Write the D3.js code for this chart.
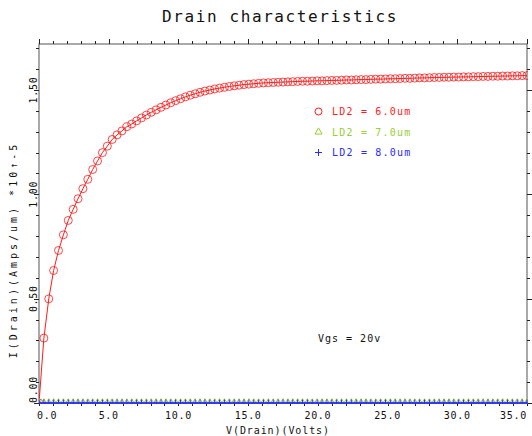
<!DOCTYPE html>
<html>
<head>
<meta charset="utf-8">
<script src="https://cdn.jsdelivr.net/npm/d3@7/dist/d3.min.js"></script>
<style>
  html, body { margin: 0; padding: 0; background: #fff; }
  svg { display: block; }
  text { font-family: "DejaVu Sans Mono", monospace; }
</style>
</head>
<body>
<script>
// ---- data ----
const title = "Drain characteristics";
const xLabel = "V(Drain)(Volts)";
const yLabel = "I(Drain)(Amps/um) *10\u2191-5";
const annotation = "Vgs = 20v";
const seriesNames = ["LD2 = 6.0um", "LD2 = 7.0um", "LD2 = 8.0um"];
const seriesColors = ["#ff1a1a", "#9acd32", "#2a2aff"];
const xTickValues = [0, 5, 10, 15, 20, 25, 30, 35];
const xTickLabels = ["0.0", "5.0", "10.0", "15.0", "20.0", "25.0", "30.0", "35.0"];
const yTickValues = [0, 0.5, 1.0, 1.5];
const yTickLabels = ["0.00", "0.50", "1.00", "1.50"];

const vDrain = [0.00,0.35,0.70,1.05,1.40,1.75,2.10,2.45,2.80,3.15,3.50,3.85,4.20,4.55,4.90,5.25,5.60,5.95,6.30,6.65,
  7.00,7.35,7.70,8.05,8.40,8.75,9.10,9.45,9.80,10.15,10.50,10.85,11.20,11.55,11.90,12.25,12.60,12.95,13.30,13.65,
  14.00,14.35,14.70,15.05,15.40,15.75,16.10,16.45,16.80,17.15,17.50,17.85,18.20,18.55,18.90,19.25,19.60,19.95,20.30,20.65,
  21.00,21.35,21.70,22.05,22.40,22.75,23.10,23.45,23.80,24.15,24.50,24.85,25.20,25.55,25.90,26.25,26.60,26.95,27.30,27.65,
  28.00,28.35,28.70,29.05,29.40,29.75,30.10,30.45,30.80,31.15,31.50,31.85,32.20,32.55,32.90,33.25,33.60,33.95,34.30,34.65,35.00];

const iLD6 = [0.000,0.311,0.499,0.635,0.731,0.806,0.875,0.928,0.979,1.027,1.072,1.119,1.160,1.200,1.231,1.263,1.285,1.304,1.324,1.337,
  1.352,1.366,1.380,1.393,1.405,1.417,1.428,1.439,1.449,1.458,1.467,1.475,1.482,1.489,1.495,1.500,1.505,1.509,1.513,1.517,
  1.520,1.523,1.526,1.528,1.530,1.532,1.534,1.535,1.536,1.537,1.538,1.539,1.540,1.541,1.542,1.542,1.543,1.544,1.544,1.545,
  1.546,1.546,1.547,1.548,1.548,1.549,1.550,1.550,1.551,1.552,1.552,1.553,1.554,1.554,1.555,1.556,1.556,1.557,1.558,1.558,
  1.559,1.560,1.560,1.561,1.561,1.562,1.562,1.563,1.563,1.564,1.564,1.565,1.565,1.566,1.566,1.567,1.567,1.568,1.568,1.569,1.569];

const iLD7 = [0,0,0,0,0,0,0,0,0,0,0,0,0,0,0,0,0,0,0,0,
  0,0,0,0,0,0,0,0,0,0,0,0,0,0,0,0,0,0,0,0,
  0,0,0,0,0,0,0,0,0,0,0,0,0,0,0,0,0,0,0,0,
  0,0,0,0,0,0,0,0,0,0,0,0,0,0,0,0,0,0,0,0,
  0,0,0,0,0,0,0,0,0,0,0,0,0,0,0,0,0,0,0,0,0];

const iLD8 = [0,0,0,0,0,0,0,0,0,0,0,0,0,0,0,0,0,0,0,0,
  0,0,0,0,0,0,0,0,0,0,0,0,0,0,0,0,0,0,0,0,
  0,0,0,0,0,0,0,0,0,0,0,0,0,0,0,0,0,0,0,0,
  0,0,0,0,0,0,0,0,0,0,0,0,0,0,0,0,0,0,0,0,
  0,0,0,0,0,0,0,0,0,0,0,0,0,0,0,0,0,0,0,0,0];

// ---- layout ----
const W = 532, H = 436;
const L = 39, R = 527, T = 44, B = 403;

const svg = d3.select("body").append("svg").attr("width", W).attr("height", H);

const x = d3.scaleLinear().domain([0, 35]).range([L, R]);
const y = d3.scaleLinear().domain([0, 1.5]).range([B, 90]);
const yTop = y.invert(T);

// frame
svg.append("rect").attr("x", L).attr("y", T).attr("width", R - L).attr("height", B - T)
  .attr("fill", "none").attr("stroke", "#555").attr("stroke-width", 1);

// ticks
const xMinor = d3.range(0, 36, 1);
const yMinor = d3.range(0, yTop + 1e-9, 0.1);
const tickColor = "#222";
const tg = svg.append("g").attr("stroke", tickColor).attr("stroke-width", 1);
xMinor.forEach(v => {
  const len = (v % 5 === 0) ? 5 : 3;
  const px = Math.round(x(v)) + 0.5;
  tg.append("line").attr("x1", px).attr("x2", px).attr("y1", T).attr("y2", T - len);
  tg.append("line").attr("x1", px).attr("x2", px).attr("y1", B).attr("y2", B + 3);
});
yMinor.forEach((v, i) => {
  const len = (i % 5 === 0) ? 5 : 3;
  const py = Math.round(y(v)) + 0.5;
  tg.append("line").attr("x1", L).attr("x2", L - len).attr("y1", py).attr("y2", py);
  tg.append("line").attr("x1", R).attr("x2", R + len).attr("y1", py).attr("y2", py);
});

// x tick labels
xTickValues.forEach((v, i) => {
  const anchor = i === 0 ? "start" : (i === xTickValues.length - 1 ? "end" : "middle");
  svg.append("text").attr("x", x(v) + (i === 0 ? -2 : 0)).attr("y", 418.5)
    .attr("text-anchor", anchor).attr("font-size", 10).attr("letter-spacing", 0.7)
    .attr("fill", "#111").text(xTickLabels[i]);
});
// y tick labels (rotated)
yTickValues.forEach((v, i) => {
  const anchor = i === 0 ? "start" : "middle";
  svg.append("text").attr("transform", `translate(36.5,${y(v)}) rotate(-90)`)
    .attr("text-anchor", anchor).attr("font-size", 10).attr("letter-spacing", 0.7)
    .attr("fill", "#111").text(yTickLabels[i]);
});

// titles
svg.append("text").attr("x", 280).attr("y", 22).attr("text-anchor", "middle")
  .attr("font-size", 16).attr("letter-spacing", 1.6).attr("fill", "#111").text(title);
svg.append("text").attr("x", 278).attr("y", 434).attr("text-anchor", "middle")
  .attr("font-size", 10).attr("letter-spacing", 0.9).attr("fill", "#111").text(xLabel);
svg.append("text").attr("transform", `translate(17,250) rotate(-90)`).attr("text-anchor", "middle")
  .attr("font-size", 10).attr("letter-spacing", 3.0).attr("fill", "#111").text(yLabel);

// clip
svg.append("clipPath").attr("id", "plotclip").append("rect")
  .attr("x", L).attr("y", T).attr("width", R - L + 1).attr("height", B - T + 1);
const plot = svg.append("g").attr("clip-path", "url(#plotclip)");

const allSeries = [iLD6, iLD7, iLD8];
const line = d3.line().x((d, i) => x(vDrain[i])).y(d => y(d));

allSeries.forEach((vals, s) => {
  const col = seriesColors[s];
  plot.append("path").datum(vals).attr("d", line).attr("fill", "none")
    .attr("stroke", col).attr("stroke-width", s === 2 ? 1.5 : 1);
  const g = plot.append("g");
  if (s === 0) {
    g.selectAll("circle").data(vals).join("circle")
      .attr("cx", (d, i) => x(vDrain[i])).attr("cy", d => y(d)).attr("r", 4)
      .attr("fill", "none").attr("stroke", col).attr("stroke-width", 1).attr("stroke-opacity", 0.8);
  } else if (s === 1) {
    g.selectAll("path").data(vals).join("path")
      .attr("transform", (d, i) => `translate(${x(vDrain[i])},${y(d) - 1})`)
      .attr("d", d3.symbol(d3.symbolTriangle, 14)).attr("fill", "none").attr("stroke", col).attr("stroke-width", 1);
  } else {
    g.selectAll("path").data(vals).join("path")
      .attr("transform", (d, i) => `translate(${x(vDrain[i])},${y(d)})`)
      .attr("d", "M-2.5,0H2.5M0,-3.5V3.5").attr("fill", "none").attr("stroke", col).attr("stroke-width", 1);
  }
});

// legend
const legY = [115, 135.5, 156];
seriesNames.forEach((name, s) => {
  const col = seriesColors[s];
  const cy = legY[s] - 3.5;
  if (s === 0) {
    svg.append("circle").attr("cx", 318.5).attr("cy", cy).attr("r", 3.5)
      .attr("fill", "none").attr("stroke", col).attr("stroke-width", 1);
  } else if (s === 1) {
    svg.append("path").attr("transform", `translate(318.5,${cy})`)
      .attr("d", d3.symbol(d3.symbolTriangle, 22)).attr("fill", "none").attr("stroke", col).attr("stroke-width", 1);
  } else {
    svg.append("path").attr("transform", `translate(318.5,${cy})`)
      .attr("d", "M-3.5,0H3.5M0,-3.5V3.5").attr("fill", "none").attr("stroke", col).attr("stroke-width", 1);
  }
  svg.append("text").attr("x", 332).attr("y", legY[s]).attr("font-size", 10)
    .attr("letter-spacing", 1.2).attr("fill", col).text(name);
});

svg.append("text").attr("x", 318).attr("y", 342).attr("font-size", 10)
  .attr("letter-spacing", 1.0).attr("fill", "#111").text(annotation);
</script>
</body>
</html>
